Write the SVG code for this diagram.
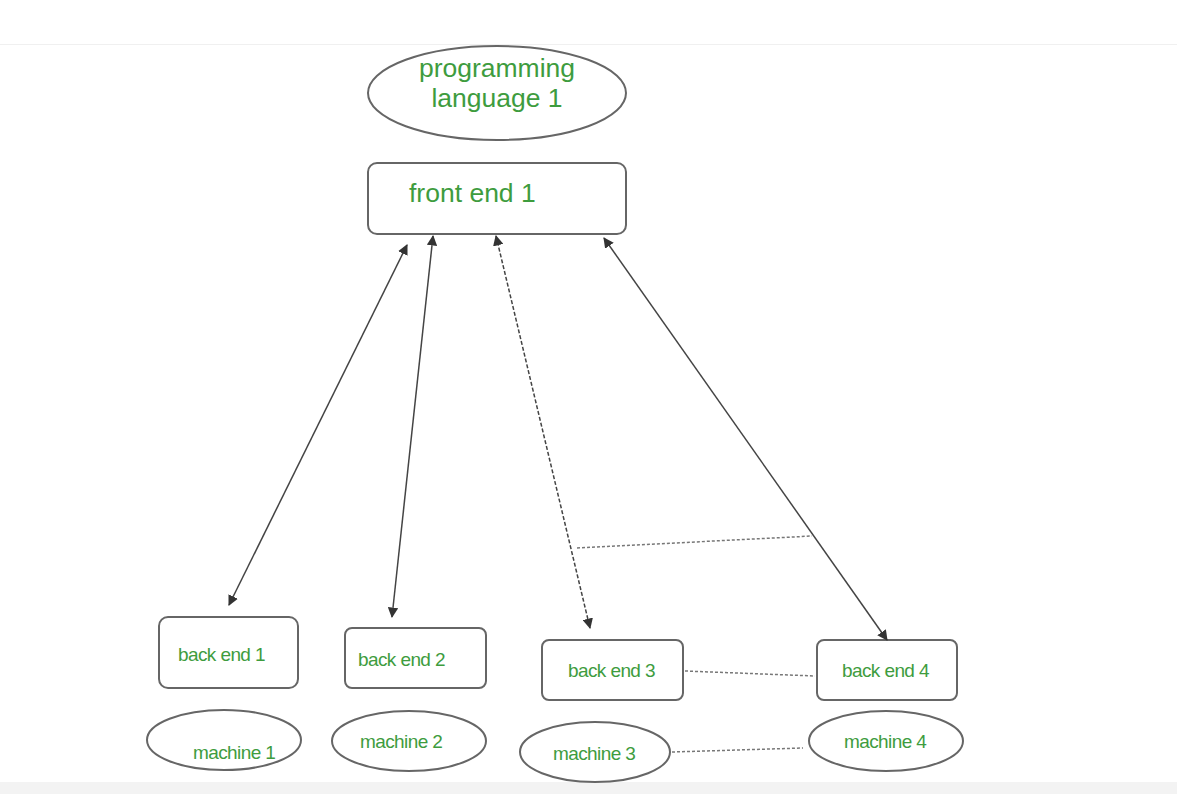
<svg xmlns="http://www.w3.org/2000/svg" width="1177" height="807" viewBox="0 0 1177 807">
<defs>
<style>
.shape{fill:#fff;stroke:#666;stroke-width:2}
.t{font-family:"Liberation Sans",Arial,sans-serif;fill:#3e9c3e}
.big{font-size:26.5px}
.small{font-size:19px;letter-spacing:-0.6px}
.c{stroke:#444;stroke-width:1.5;fill:none}
.dash{stroke-dasharray:4 2}
.dot{stroke:#777;stroke-width:1.5;stroke-dasharray:3 2;fill:none}
</style>
<marker id="ah" viewBox="0 0 10 10" refX="9" refY="5" markerWidth="7" markerHeight="7" orient="auto-start-reverse">
<path d="M0,0 L10,5 L0,10 z" fill="#333"/>
</marker>
</defs>
<rect x="0" y="0" width="1177" height="807" fill="#fff"/>
<line x1="0" y1="44.5" x2="1177" y2="44.5" stroke="#f0f0f0" stroke-width="1"/>
<rect x="0" y="782" width="1177" height="12" fill="#f3f3f3"/>

<g id="lang1">
<ellipse class="shape" cx="497" cy="93" rx="129" ry="47"/>
<text class="t big" x="497" y="77" text-anchor="middle">programming</text>
<text class="t big" x="497" y="107" text-anchor="middle">language 1</text>
</g>
<g id="front1">
<rect class="shape" x="368" y="163" width="258" height="71" rx="9"/>
<text class="t big" x="409" y="202">front end 1</text>
</g>
<g id="back1">
<rect class="shape" x="159" y="617" width="139" height="71" rx="9"/>
<text class="t small" x="178" y="661">back end 1</text>
</g>
<g id="back2">
<rect class="shape" x="345" y="628" width="141" height="60" rx="7"/>
<text class="t small" x="358" y="666">back end 2</text>
</g>
<g id="back3">
<rect class="shape" x="542" y="640" width="141" height="60" rx="7"/>
<text class="t small" x="568" y="677">back end 3</text>
</g>
<g id="back4">
<rect class="shape" x="817" y="640" width="140" height="60" rx="7"/>
<text class="t small" x="842" y="677">back end 4</text>
</g>
<g id="machine1">
<ellipse class="shape" cx="224" cy="740" rx="77" ry="30"/>
<text class="t small" x="193" y="759">machine 1</text>
</g>
<g id="machine2">
<ellipse class="shape" cx="409" cy="741" rx="77" ry="30"/>
<text class="t small" x="360" y="748">machine 2</text>
</g>
<g id="machine3">
<ellipse class="shape" cx="595" cy="752" rx="75" ry="30"/>
<text class="t small" x="553" y="760">machine 3</text>
</g>
<g id="machine4">
<ellipse class="shape" cx="886" cy="741" rx="77" ry="30"/>
<text class="t small" x="844" y="748">machine 4</text>
</g>

<g id="connectors">
<line class="c" x1="407" y1="245" x2="229" y2="605" marker-start="url(#ah)" marker-end="url(#ah)"/>
<line class="c" x1="433" y1="236" x2="392" y2="617" marker-start="url(#ah)" marker-end="url(#ah)"/>
<line class="c dash" x1="496" y1="236" x2="590" y2="628" marker-start="url(#ah)" marker-end="url(#ah)"/>
<line class="c" x1="604" y1="238" x2="887" y2="640" marker-start="url(#ah)" marker-end="url(#ah)"/>
<line class="dot" x1="577" y1="548" x2="812" y2="536"/>
<line class="dot" x1="685" y1="671" x2="815" y2="676"/>
<line class="dot" x1="672" y1="752" x2="803" y2="748"/>
</g>
</svg>
